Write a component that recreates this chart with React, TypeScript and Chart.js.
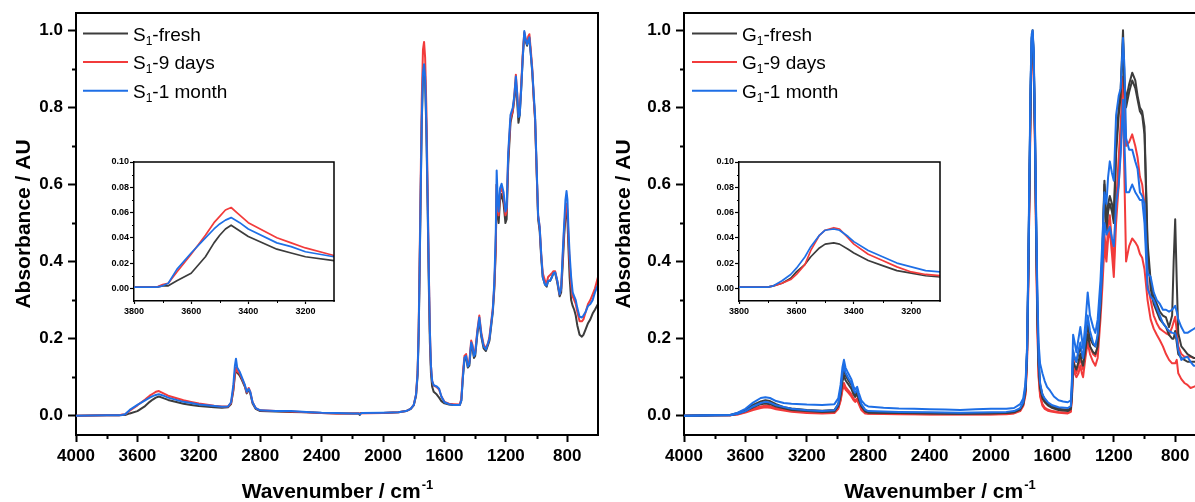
import React, { useEffect, useRef } from 'react';
import { Chart, registerables } from 'chart.js';
Chart.register(...registerables);

type Pt = [number, number];
const FONT = '"Liberation Sans", Arial, Helvetica, sans-serif';
const C_BLACK = '#3c3c3c';
const C_RED = '#f23b3b';
const C_BLUE = '#1e6fe6';

// ---------- tick values ----------
const xMajorTicks = [4000, 3600, 3200, 2800, 2400, 2000, 1600, 1200, 800];
const xMinorTicks = [3800, 3400, 3000, 2600, 2200, 1800, 1400, 1000];
const yMajorTicks = [0, 0.2, 0.4, 0.6, 0.8, 1.0];
const yMinorTicks = [0.1, 0.3, 0.5, 0.7, 0.9];
const insetXMajor = [3800, 3600, 3400, 3200];
const insetXMinor = [3700, 3500, 3300];
const insetYMajor = [0, 0.02, 0.04, 0.06, 0.08, 0.1];
const insetYMinor = [0.01, 0.03, 0.05, 0.07, 0.09];

// ---------- legends (prefix, subscript, suffix) ----------
const sLegend = [['S', '1', '-fresh'], ['S', '1', '-9 days'], ['S', '1', '-1 month']];
const gLegend = [['G', '1', '-fresh'], ['G', '1', '-9 days'], ['G', '1', '-1 month']];
const yTitle = 'Absorbance / AU';
const xTitleMain = 'Wavenumber / cm';
const xTitleSup = '-1';

// ---------- S1 spectra ----------
const sFresh: Pt[] = [[4000,0],[3800,0.001],[3720,0.001],[3700,0.002],[3680,0.002],[3650,0.006],[3600,0.012],[3550,0.025],[3520,0.036],[3500,0.042],[3480,0.047],[3460,0.050],[3440,0.047],[3400,0.041],[3300,0.031],[3250,0.028],[3200,0.025],[3100,0.022],[3050,0.021],[3010,0.022],[2990,0.03],[2975,0.065],[2965,0.105],[2958,0.12],[2950,0.112],[2935,0.105],[2920,0.093],[2900,0.075],[2888,0.058],[2875,0.068],[2865,0.058],[2850,0.032],[2830,0.018],[2800,0.012],[2700,0.011],[2600,0.01],[2500,0.009],[2400,0.007],[2300,0.006],[2200,0.006],[2160,0.006],[2152,0.002],[2145,0.007],[2000,0.007],[1900,0.009],[1850,0.012],[1820,0.018],[1800,0.027],[1785,0.052],[1775,0.105],[1768,0.21],[1762,0.37],[1755,0.57],[1748,0.76],[1740,0.88],[1733,0.91],[1726,0.87],[1718,0.74],[1710,0.55],[1702,0.34],[1695,0.19],[1688,0.11],[1680,0.075],[1670,0.062],[1650,0.055],[1635,0.047],[1620,0.038],[1600,0.032],[1570,0.029],[1540,0.028],[1500,0.028],[1490,0.04],[1480,0.1],[1470,0.145],[1459,0.15],[1448,0.125],[1438,0.13],[1426,0.185],[1418,0.175],[1408,0.15],[1400,0.155],[1385,0.215],[1373,0.245],[1360,0.205],[1345,0.175],[1330,0.168],[1315,0.185],[1307,0.195],[1295,0.235],[1285,0.27],[1275,0.33],[1266,0.43],[1260,0.6],[1253,0.52],[1247,0.5],[1238,0.56],[1228,0.575],[1215,0.55],[1203,0.5],[1195,0.51],[1185,0.65],[1170,0.76],[1155,0.79],[1145,0.82],[1135,0.865],[1127,0.82],[1118,0.76],[1110,0.78],[1100,0.85],[1090,0.93],[1080,0.99],[1070,0.97],[1062,0.96],[1054,0.975],[1047,0.98],[1038,0.94],[1028,0.89],[1018,0.82],[1010,0.77],[1000,0.64],[990,0.51],[980,0.48],[970,0.41],[960,0.36],[945,0.34],[934,0.335],[925,0.35],[912,0.35],[900,0.36],[890,0.37],[879,0.37],[865,0.345],[850,0.31],[840,0.32],[830,0.39],[820,0.47],[812,0.515],[805,0.53],[799,0.51],[792,0.43],[785,0.36],[775,0.3],[765,0.285],[755,0.275],[745,0.26],[735,0.235],[720,0.21],[705,0.205],[695,0.21],[680,0.225],[665,0.24],[650,0.25],[635,0.265],[620,0.275],[600,0.29]];

const s9Days: Pt[] = [[4000,0],[3800,0.001],[3720,0.001],[3700,0.003],[3680,0.004],[3650,0.013],[3600,0.027],[3550,0.042],[3520,0.052],[3500,0.057],[3480,0.062],[3460,0.064],[3440,0.06],[3400,0.052],[3300,0.040],[3250,0.036],[3200,0.032],[3100,0.026],[3050,0.024],[3010,0.024],[2990,0.033],[2975,0.07],[2965,0.11],[2958,0.125],[2950,0.115],[2935,0.11],[2920,0.097],[2900,0.078],[2888,0.06],[2875,0.072],[2865,0.062],[2850,0.035],[2830,0.02],[2800,0.014],[2700,0.012],[2600,0.011],[2500,0.009],[2400,0.007],[2300,0.006],[2200,0.006],[2000,0.007],[1900,0.009],[1850,0.012],[1820,0.018],[1800,0.028],[1785,0.056],[1775,0.115],[1768,0.23],[1762,0.4],[1755,0.61],[1748,0.82],[1740,0.95],[1733,0.97],[1726,0.93],[1718,0.8],[1710,0.6],[1702,0.38],[1695,0.22],[1688,0.13],[1680,0.09],[1670,0.078],[1650,0.074],[1635,0.068],[1620,0.05],[1600,0.036],[1570,0.031],[1540,0.03],[1500,0.029],[1490,0.045],[1480,0.11],[1470,0.155],[1459,0.16],[1448,0.132],[1438,0.14],[1426,0.195],[1418,0.185],[1408,0.16],[1400,0.165],[1385,0.225],[1373,0.26],[1360,0.215],[1345,0.185],[1330,0.175],[1315,0.19],[1307,0.205],[1295,0.245],[1285,0.28],[1275,0.34],[1266,0.44],[1260,0.6],[1253,0.54],[1247,0.52],[1238,0.58],[1228,0.59],[1215,0.57],[1203,0.52],[1195,0.53],[1185,0.67],[1170,0.77],[1155,0.79],[1145,0.83],[1135,0.885],[1127,0.84],[1118,0.78],[1110,0.79],[1100,0.86],[1090,0.94],[1080,0.995],[1070,0.975],[1062,0.965],[1054,0.985],[1047,0.99],[1038,0.95],[1028,0.9],[1018,0.82],[1010,0.77],[1000,0.64],[990,0.52],[980,0.49],[970,0.42],[960,0.37],[945,0.35],[934,0.345],[925,0.36],[912,0.365],[900,0.37],[890,0.375],[879,0.375],[865,0.35],[850,0.315],[840,0.33],[830,0.41],[820,0.49],[812,0.53],[805,0.55],[799,0.53],[792,0.46],[785,0.4],[775,0.34],[765,0.31],[755,0.3],[745,0.29],[735,0.27],[720,0.245],[705,0.245],[695,0.25],[680,0.27],[665,0.29],[650,0.3],[635,0.315],[620,0.33],[600,0.36]];

const s1Month: Pt[] = [[4000,0],[3800,0.001],[3720,0.001],[3700,0.002],[3680,0.004],[3650,0.015],[3600,0.028],[3550,0.040],[3520,0.047],[3500,0.051],[3480,0.054],[3460,0.056],[3430,0.052],[3400,0.047],[3300,0.036],[3250,0.033],[3200,0.029],[3100,0.025],[3050,0.023],[3010,0.024],[2990,0.035],[2975,0.08],[2965,0.13],[2958,0.148],[2950,0.125],[2935,0.115],[2920,0.1],[2900,0.08],[2888,0.062],[2875,0.07],[2865,0.062],[2850,0.035],[2830,0.02],[2800,0.014],[2700,0.012],[2600,0.012],[2500,0.01],[2400,0.008],[2300,0.007],[2200,0.006],[2160,0.006],[2150,0.004],[2140,0.007],[2000,0.008],[1900,0.009],[1850,0.012],[1820,0.018],[1800,0.028],[1785,0.055],[1775,0.11],[1768,0.22],[1762,0.38],[1755,0.58],[1748,0.77],[1740,0.89],[1733,0.912],[1726,0.88],[1718,0.76],[1710,0.57],[1702,0.37],[1695,0.22],[1688,0.13],[1680,0.09],[1670,0.079],[1650,0.076],[1635,0.07],[1620,0.05],[1600,0.035],[1570,0.03],[1540,0.028],[1500,0.028],[1490,0.04],[1480,0.1],[1470,0.15],[1459,0.155],[1448,0.128],[1438,0.135],[1426,0.19],[1418,0.18],[1408,0.155],[1400,0.16],[1385,0.22],[1373,0.255],[1360,0.21],[1345,0.18],[1330,0.172],[1315,0.19],[1307,0.2],[1295,0.24],[1285,0.274],[1275,0.35],[1266,0.47],[1260,0.636],[1253,0.56],[1247,0.53],[1238,0.59],[1228,0.602],[1215,0.58],[1203,0.53],[1195,0.54],[1185,0.68],[1170,0.78],[1155,0.8],[1145,0.83],[1135,0.88],[1127,0.84],[1118,0.775],[1110,0.78],[1100,0.85],[1090,0.93],[1080,0.998],[1070,0.975],[1062,0.963],[1054,0.975],[1047,0.982],[1038,0.94],[1028,0.895],[1018,0.83],[1010,0.78],[1000,0.65],[990,0.52],[980,0.49],[970,0.42],[960,0.36],[945,0.34],[934,0.338],[925,0.35],[912,0.35],[900,0.36],[890,0.37],[879,0.372],[865,0.35],[850,0.315],[840,0.33],[830,0.42],[820,0.5],[812,0.56],[805,0.583],[799,0.56],[792,0.48],[785,0.42],[775,0.36],[765,0.32],[755,0.31],[745,0.3],[735,0.28],[720,0.257],[705,0.255],[695,0.26],[680,0.27],[665,0.285],[650,0.29],[635,0.3],[620,0.32],[600,0.34]];

// ---------- G1 spectra (two traces per sample) ----------
const gFreshA: Pt[] = [[4000,0],[3800,0.001],[3700,0.002],[3650,0.007],[3600,0.015],[3550,0.028],[3500,0.037],[3470,0.04],[3440,0.038],[3400,0.03],[3350,0.022],[3300,0.019],[3200,0.015],[3100,0.013],[3020,0.015],[2995,0.03],[2980,0.06],[2968,0.1],[2958,0.12],[2948,0.105],[2930,0.092],[2910,0.08],[2895,0.062],[2885,0.055],[2872,0.062],[2862,0.048],[2845,0.028],[2820,0.014],[2800,0.01],[2600,0.008],[2400,0.007],[2200,0.006],[2000,0.007],[1900,0.008],[1850,0.01],[1810,0.018],[1790,0.032],[1775,0.07],[1765,0.17],[1758,0.35],[1750,0.6],[1742,0.85],[1735,0.98],[1729,1.0],[1722,0.94],[1714,0.75],[1706,0.5],[1698,0.28],[1690,0.14],[1680,0.08],[1665,0.055],[1650,0.042],[1630,0.032],[1600,0.024],[1560,0.018],[1500,0.015],[1480,0.02],[1472,0.07],[1465,0.165],[1455,0.15],[1444,0.14],[1430,0.16],[1418,0.18],[1408,0.16],[1400,0.15],[1385,0.19],[1370,0.235],[1355,0.2],[1335,0.185],[1320,0.18],[1305,0.205],[1287,0.3],[1275,0.42],[1261,0.61],[1248,0.5],[1237,0.55],[1226,0.57],[1212,0.55],[1200,0.52],[1185,0.7],[1168,0.8],[1155,0.85],[1140,1.0],[1130,0.86],[1120,0.82],[1100,0.86],[1080,0.89],[1060,0.87],[1045,0.83],[1030,0.8],[1015,0.79],[1000,0.75],[980,0.45],[960,0.35],[940,0.31],[920,0.29],[900,0.27],[880,0.26],[860,0.255],[840,0.23],[820,0.26],[810,0.4],[800,0.51],[790,0.35],[780,0.214],[760,0.18],[740,0.17],[720,0.16],[700,0.155],[680,0.15],[660,0.15]];

const gFreshB: Pt[] = [[4000,0],[3800,0.001],[3700,0.001],[3650,0.005],[3600,0.012],[3550,0.022],[3500,0.03],[3470,0.032],[3440,0.03],[3400,0.024],[3300,0.015],[3200,0.012],[3100,0.01],[3020,0.011],[2995,0.025],[2980,0.052],[2968,0.088],[2958,0.105],[2948,0.092],[2930,0.082],[2910,0.07],[2895,0.055],[2885,0.049],[2872,0.056],[2862,0.043],[2845,0.024],[2820,0.011],[2800,0.008],[2600,0.007],[2400,0.006],[2200,0.005],[2000,0.006],[1900,0.007],[1850,0.009],[1810,0.016],[1790,0.03],[1775,0.065],[1765,0.16],[1758,0.34],[1750,0.58],[1742,0.83],[1735,0.97],[1729,0.99],[1722,0.93],[1714,0.74],[1706,0.49],[1698,0.27],[1690,0.13],[1680,0.07],[1665,0.045],[1650,0.035],[1630,0.027],[1600,0.02],[1560,0.015],[1500,0.012],[1480,0.017],[1472,0.06],[1465,0.14],[1455,0.13],[1444,0.12],[1430,0.14],[1418,0.16],[1408,0.14],[1400,0.13],[1385,0.17],[1370,0.21],[1355,0.18],[1335,0.165],[1320,0.16],[1305,0.18],[1287,0.28],[1275,0.4],[1261,0.6],[1248,0.48],[1237,0.53],[1226,0.55],[1212,0.53],[1200,0.5],[1185,0.68],[1168,0.78],[1155,0.83],[1140,0.97],[1130,0.84],[1120,0.8],[1100,0.84],[1080,0.87],[1060,0.85],[1045,0.82],[1030,0.79],[1015,0.78],[1000,0.73],[980,0.43],[960,0.33],[940,0.29],[920,0.27],[900,0.25],[880,0.24],[860,0.23],[840,0.21],[820,0.2],[810,0.2],[800,0.22],[790,0.19],[780,0.16],[760,0.15],[740,0.145],[720,0.14],[700,0.14],[680,0.14],[660,0.14]];

const g9DaysA: Pt[] = [[4000,0],[3800,0.001],[3700,0.001],[3650,0.004],[3600,0.01],[3550,0.018],[3500,0.024],[3470,0.026],[3440,0.025],[3400,0.02],[3300,0.012],[3200,0.009],[3100,0.008],[3020,0.009],[2995,0.02],[2980,0.042],[2968,0.072],[2958,0.085],[2948,0.075],[2930,0.066],[2910,0.056],[2895,0.044],[2885,0.04],[2872,0.045],[2862,0.035],[2845,0.018],[2820,0.008],[2800,0.006],[2600,0.005],[2400,0.004],[2200,0.004],[2000,0.004],[1900,0.005],[1850,0.007],[1810,0.014],[1790,0.027],[1775,0.06],[1765,0.15],[1758,0.32],[1750,0.56],[1742,0.81],[1735,0.95],[1729,0.98],[1722,0.92],[1714,0.72],[1706,0.46],[1698,0.24],[1690,0.11],[1680,0.055],[1665,0.03],[1650,0.021],[1630,0.016],[1600,0.012],[1560,0.01],[1500,0.008],[1480,0.012],[1472,0.06],[1465,0.15],[1455,0.13],[1444,0.11],[1430,0.13],[1418,0.15],[1408,0.13],[1400,0.12],[1385,0.17],[1370,0.214],[1355,0.18],[1335,0.16],[1320,0.154],[1305,0.18],[1287,0.29],[1275,0.37],[1261,0.47],[1248,0.42],[1237,0.49],[1226,0.52],[1212,0.45],[1200,0.39],[1185,0.55],[1168,0.67],[1155,0.76],[1140,0.88],[1130,0.8],[1120,0.7],[1100,0.71],[1080,0.73],[1060,0.7],[1045,0.67],[1030,0.62],[1015,0.6],[1000,0.55],[980,0.34],[960,0.3],[940,0.26],[920,0.24],[900,0.226],[880,0.22],[860,0.214],[840,0.21],[820,0.23],[800,0.257],[790,0.22],[780,0.18],[760,0.16],[740,0.153],[720,0.153],[700,0.153],[680,0.15],[660,0.15]];

const g9DaysB: Pt[] = [[4000,0],[3800,0.001],[3700,0.001],[3650,0.003],[3600,0.008],[3550,0.015],[3500,0.02],[3470,0.022],[3440,0.021],[3400,0.017],[3300,0.01],[3200,0.007],[3100,0.006],[3020,0.007],[2995,0.018],[2980,0.038],[2968,0.066],[2958,0.078],[2948,0.068],[2930,0.06],[2910,0.05],[2895,0.04],[2885,0.036],[2872,0.04],[2862,0.031],[2845,0.015],[2820,0.006],[2800,0.005],[2600,0.004],[2400,0.003],[2200,0.003],[2000,0.003],[1900,0.004],[1850,0.006],[1810,0.012],[1790,0.025],[1775,0.055],[1765,0.14],[1758,0.31],[1750,0.55],[1742,0.8],[1735,0.94],[1729,0.97],[1722,0.91],[1714,0.71],[1706,0.45],[1698,0.23],[1690,0.1],[1680,0.05],[1665,0.026],[1650,0.018],[1630,0.013],[1600,0.01],[1560,0.008],[1500,0.006],[1480,0.01],[1472,0.05],[1465,0.13],[1455,0.11],[1444,0.1],[1430,0.11],[1418,0.13],[1408,0.11],[1400,0.1],[1385,0.15],[1370,0.19],[1355,0.16],[1335,0.14],[1320,0.13],[1305,0.15],[1287,0.25],[1275,0.33],[1261,0.44],[1248,0.4],[1237,0.46],[1226,0.48],[1212,0.42],[1200,0.36],[1185,0.5],[1168,0.6],[1155,0.7],[1140,0.82],[1130,0.6],[1120,0.4],[1100,0.44],[1080,0.46],[1060,0.45],[1045,0.44],[1030,0.42],[1015,0.41],[1000,0.38],[980,0.3],[960,0.25],[940,0.226],[920,0.21],[900,0.196],[880,0.18],[860,0.16],[840,0.145],[820,0.136],[800,0.136],[790,0.145],[780,0.11],[760,0.095],[740,0.085],[720,0.08],[700,0.072],[680,0.075],[660,0.078]];

const g1MonthA: Pt[] = [[4000,0],[3800,0.001],[3700,0.002],[3650,0.008],[3600,0.018],[3550,0.034],[3500,0.046],[3470,0.048],[3440,0.046],[3400,0.038],[3350,0.033],[3300,0.031],[3200,0.029],[3100,0.028],[3020,0.03],[2995,0.045],[2980,0.08],[2968,0.125],[2958,0.145],[2948,0.125],[2930,0.11],[2910,0.095],[2895,0.075],[2885,0.068],[2872,0.075],[2862,0.06],[2845,0.04],[2820,0.028],[2800,0.024],[2700,0.021],[2600,0.019],[2500,0.018],[2400,0.017],[2300,0.016],[2200,0.015],[2100,0.017],[2000,0.018],[1900,0.018],[1850,0.02],[1810,0.03],[1790,0.045],[1775,0.085],[1765,0.18],[1758,0.37],[1750,0.62],[1742,0.87],[1735,0.99],[1729,1.0],[1722,0.95],[1714,0.77],[1706,0.53],[1698,0.32],[1690,0.19],[1680,0.135],[1665,0.11],[1650,0.09],[1635,0.075],[1615,0.065],[1590,0.05],[1560,0.04],[1530,0.037],[1500,0.035],[1480,0.04],[1472,0.1],[1465,0.21],[1455,0.19],[1444,0.165],[1430,0.2],[1418,0.23],[1408,0.2],[1400,0.175],[1385,0.24],[1370,0.32],[1355,0.26],[1335,0.23],[1320,0.215],[1305,0.25],[1287,0.35],[1275,0.45],[1261,0.58],[1248,0.55],[1237,0.62],[1226,0.66],[1212,0.63],[1200,0.61],[1185,0.78],[1168,0.83],[1155,0.85],[1140,0.98],[1130,0.9],[1120,0.72],[1100,0.69],[1080,0.69],[1060,0.66],[1045,0.64],[1030,0.58],[1015,0.57],[1000,0.55],[980,0.37],[960,0.36],[940,0.32],[920,0.3],[900,0.29],[880,0.275],[860,0.275],[840,0.27],[820,0.275],[800,0.285],[790,0.27],[780,0.25],[760,0.23],[740,0.215],[720,0.215],[700,0.22],[680,0.225],[660,0.23]];

const g1MonthB: Pt[] = [[4000,0],[3800,0.001],[3700,0.001],[3650,0.005],[3600,0.012],[3550,0.024],[3500,0.033],[3470,0.036],[3440,0.034],[3400,0.027],[3300,0.018],[3200,0.014],[3100,0.012],[3020,0.014],[2995,0.03],[2980,0.065],[2968,0.11],[2958,0.13],[2948,0.112],[2930,0.098],[2910,0.085],[2895,0.066],[2885,0.06],[2872,0.067],[2862,0.052],[2845,0.03],[2820,0.016],[2800,0.012],[2600,0.01],[2400,0.009],[2200,0.008],[2000,0.009],[1900,0.01],[1850,0.012],[1810,0.02],[1790,0.035],[1775,0.075],[1765,0.17],[1758,0.35],[1750,0.6],[1742,0.85],[1735,0.98],[1729,0.995],[1722,0.94],[1714,0.76],[1706,0.51],[1698,0.3],[1690,0.15],[1680,0.085],[1665,0.055],[1650,0.045],[1630,0.035],[1600,0.027],[1560,0.022],[1500,0.02],[1480,0.025],[1472,0.08],[1465,0.17],[1455,0.15],[1444,0.14],[1430,0.17],[1418,0.19],[1408,0.165],[1400,0.15],[1385,0.2],[1370,0.26],[1355,0.22],[1335,0.19],[1320,0.18],[1305,0.21],[1287,0.3],[1275,0.38],[1261,0.5],[1248,0.47],[1237,0.48],[1226,0.49],[1212,0.46],[1200,0.44],[1185,0.55],[1168,0.6],[1155,0.68],[1140,0.82],[1130,0.7],[1120,0.58],[1100,0.58],[1080,0.6],[1060,0.58],[1045,0.57],[1030,0.56],[1015,0.56],[1000,0.5],[980,0.33],[960,0.31],[940,0.3],[920,0.28],[900,0.26],[880,0.24],[860,0.23],[840,0.22],[820,0.215],[800,0.214],[790,0.2],[780,0.17],[760,0.145],[740,0.15],[720,0.153],[700,0.14],[680,0.13],[660,0.13]];

// ---------- G1 inset traces ----------
const gInsetFresh: Pt[] = [[3800,0.001],[3750,0.001],[3700,0.001],[3680,0.002],[3650,0.004],[3620,0.008],[3600,0.013],[3570,0.019],[3550,0.025],[3520,0.032],[3500,0.035],[3470,0.036],[3450,0.035],[3420,0.031],[3400,0.028],[3350,0.022],[3300,0.018],[3250,0.014],[3200,0.012],[3150,0.01],[3100,0.009]];
const gInset9Days: Pt[] = [[3800,0.001],[3750,0.001],[3700,0.001],[3680,0.002],[3650,0.004],[3620,0.007],[3600,0.011],[3570,0.019],[3550,0.03],[3520,0.042],[3500,0.046],[3470,0.048],[3450,0.047],[3420,0.04],[3400,0.035],[3350,0.027],[3300,0.022],[3250,0.017],[3200,0.013],[3150,0.011],[3100,0.01]];
const gInset1Month: Pt[] = [[3800,0.001],[3750,0.001],[3700,0.001],[3680,0.002],[3650,0.006],[3620,0.011],[3600,0.016],[3570,0.025],[3550,0.033],[3520,0.042],[3500,0.046],[3470,0.047],[3450,0.046],[3420,0.041],[3400,0.037],[3350,0.03],[3300,0.025],[3250,0.02],[3200,0.017],[3150,0.014],[3100,0.013]];

// ---------- helpers ----------
function decor(o: any) {
  return {
    id: 'decor',
    afterDraw(chart: any) {
      const { ctx, chartArea: a, scales } = chart;
      ctx.save();
      ctx.strokeStyle = '#000';
      ctx.lineCap = 'square';
      ctx.lineWidth = o.frameW;
      ctx.beginPath();
      ctx.moveTo(a.left, a.top);
      ctx.lineTo(a.right, a.top);
      if (o.rightBorder) {
        ctx.moveTo(a.right, a.top);
        ctx.lineTo(a.right, a.bottom);
      }
      ctx.stroke();
      ctx.lineCap = 'butt';
      ctx.lineWidth = o.minorW;
      ctx.beginPath();
      o.xMinor.forEach((v: number) => {
        const px = Math.round(scales.x.getPixelForValue(v)) + 0.5;
        ctx.moveTo(px, a.bottom);
        ctx.lineTo(px, a.bottom + o.minorLen);
      });
      o.yMinor.forEach((v: number) => {
        const py = Math.round(scales.y.getPixelForValue(v)) + 0.5;
        ctx.moveTo(a.left - o.minorLen, py);
        ctx.lineTo(a.left, py);
      });
      ctx.stroke();

      if (o.legend) {
        const L = o.legend;
        L.items.forEach((parts: string[], i: number) => {
          const y = L.y0 + i * L.dy;
          ctx.strokeStyle = L.colors[i];
          ctx.lineWidth = 2;
          ctx.beginPath();
          ctx.moveTo(L.x0, y);
          ctx.lineTo(L.x1, y);
          ctx.stroke();
          ctx.fillStyle = '#000';
          ctx.textAlign = 'left';
          ctx.textBaseline = 'alphabetic';
          const base = y + 7;
          let x = L.tx;
          ctx.font = `19px ${FONT}`;
          ctx.fillText(parts[0], x, base);
          x += ctx.measureText(parts[0]).width;
          ctx.font = `12px ${FONT}`;
          ctx.fillText(parts[1], x, base + 4);
          x += ctx.measureText(parts[1]).width;
          ctx.font = `19px ${FONT}`;
          ctx.fillText(parts[2], x, base);
        });
      }

      if (o.xTitle) {
        ctx.fillStyle = '#000';
        ctx.textAlign = 'left';
        ctx.textBaseline = 'alphabetic';
        ctx.font = `bold 21px ${FONT}`;
        const w1 = ctx.measureText(xTitleMain).width;
        ctx.font = `bold 13px ${FONT}`;
        const w2 = ctx.measureText(xTitleSup).width;
        const cx = (a.left + a.right) / 2 + (o.xTitle.dx || 0);
        const x = cx - (w1 + w2) / 2;
        ctx.font = `bold 21px ${FONT}`;
        ctx.fillText(xTitleMain, x, o.xTitle.base);
        ctx.font = `bold 13px ${FONT}`;
        ctx.fillText(xTitleSup, x + w1 + 1, o.xTitle.base - 9);
      }
      ctx.restore();
    },
  };
}

function datasets(series: { data: Pt[]; color: string }[], width: number) {
  const n = series.length;
  return series.map((s, i) => ({
    data: s.data.map(([x, y]) => ({ x, y })),
    borderColor: s.color,
    backgroundColor: s.color,
    borderWidth: width,
    pointRadius: 0,
    tension: 0,
    fill: false,
    borderJoinStyle: 'round',
    order: n - i,
  }));
}

function MainPanel(p: any) {
  const ref = useRef<HTMLCanvasElement>(null);
  useEffect(() => {
    const chart = new Chart(ref.current as HTMLCanvasElement, {
      type: 'line',
      data: { datasets: datasets(p.series, 2) as any },
      options: {
        animation: false,
        responsive: false,
        events: [],
        layout: { padding: { left: 0, right: p.padRight, top: 13, bottom: 0 } },
        plugins: { legend: { display: false }, tooltip: { enabled: false } },
        scales: {
          x: {
            type: 'linear',
            reverse: true,
            min: p.xMin,
            max: 4000,
            afterBuildTicks: (s: any) => { s.ticks = xMajorTicks.map((value) => ({ value })); },
            afterFit: (s: any) => { s.height = 67; s.paddingLeft = 0; s.paddingRight = 0; },
            grid: { drawOnChartArea: false, drawTicks: true, tickLength: 7, tickWidth: 2, tickColor: '#000' },
            border: { display: true, color: '#000', width: 2 },
            ticks: {
              autoSkip: false, maxRotation: 0, minRotation: 0, padding: 4, color: '#000',
              font: { family: FONT, size: 17, weight: 'bold' },
              callback: (v: any) => String(v),
            },
          },
          y: {
            type: 'linear',
            min: -0.05,
            max: 1.045,
            afterBuildTicks: (s: any) => { s.ticks = yMajorTicks.map((value) => ({ value })); },
            afterFit: (s: any) => { s.width = p.yWidth; s.paddingTop = 0; s.paddingBottom = 0; },
            grid: { drawOnChartArea: false, drawTicks: true, tickLength: 8, tickWidth: 2, tickColor: '#000' },
            border: { display: true, color: '#000', width: 2 },
            ticks: {
              autoSkip: false, padding: 5, color: '#000',
              font: { family: FONT, size: 17, weight: 'bold' },
              callback: (v: any) => Number(v).toFixed(1),
            },
            title: {
              display: true, text: yTitle, color: '#000',
              font: { family: FONT, size: 21, weight: 'bold' },
              padding: { top: 12, bottom: 0 },
            },
          },
        },
      } as any,
      plugins: [decor({
        frameW: 2, rightBorder: p.rightBorder, xMinor: xMinorTicks, yMinor: yMinorTicks, minorLen: 4, minorW: 2,
        legend: { items: p.legend, colors: [C_BLACK, C_RED, C_BLUE], x0: p.legendX0, x1: p.legendX0 + 45, tx: p.legendX0 + 50, y0: 33.5, dy: 28.6 },
        xTitle: { base: 498 },
      })],
    });
    return () => chart.destroy();
  }, []);
  return (
    <canvas ref={ref} width={p.width} height={502}
      style={{ position: 'absolute', left: p.left, top: 0, width: p.width, height: 502 }} />
  );
}

function InsetPanel(p: any) {
  const ref = useRef<HTMLCanvasElement>(null);
  useEffect(() => {
    const chart = new Chart(ref.current as HTMLCanvasElement, {
      type: 'line',
      data: { datasets: datasets(p.series, 1.7) as any },
      options: {
        animation: false,
        responsive: false,
        events: [],
        layout: { padding: { left: 0, right: p.padRight, top: 12, bottom: 0 } },
        plugins: { legend: { display: false }, tooltip: { enabled: false } },
        scales: {
          x: {
            type: 'linear', reverse: true, min: 3100, max: 3800,
            afterBuildTicks: (s: any) => { s.ticks = insetXMajor.map((value) => ({ value })); },
            afterFit: (s: any) => { s.height = 29; s.paddingLeft = 0; s.paddingRight = 0; },
            grid: { drawOnChartArea: false, drawTicks: true, tickLength: 3, tickWidth: 1.2, tickColor: '#000' },
            border: { display: true, color: '#000', width: 1.5 },
            ticks: {
              autoSkip: false, maxRotation: 0, minRotation: 0, padding: 2, color: '#000',
              font: { family: FONT, size: 9, weight: 'bold' },
              callback: (v: any) => String(v),
            },
          },
          y: {
            type: 'linear', min: -0.01, max: 0.1,
            afterBuildTicks: (s: any) => { s.ticks = insetYMajor.map((value) => ({ value })); },
            afterFit: (s: any) => { s.width = p.yWidth; s.paddingTop = 0; s.paddingBottom = 0; },
            grid: { drawOnChartArea: false, drawTicks: true, tickLength: 4, tickWidth: 1.2, tickColor: '#000' },
            border: { display: true, color: '#000', width: 1.5 },
            ticks: {
              autoSkip: false, padding: 1, color: '#000',
              font: { family: FONT, size: 9, weight: 'bold' },
              callback: (v: any) => Number(v).toFixed(2),
            },
          },
        },
      } as any,
      plugins: [decor({ frameW: 1.5, rightBorder: true, xMinor: insetXMinor, yMinor: insetYMinor, minorLen: 2, minorW: 1 })],
    });
    return () => chart.destroy();
  }, []);
  return (
    <canvas ref={ref} width={250} height={180}
      style={{ position: 'absolute', left: p.left, top: p.top, width: 250, height: 180 }} />
  );
}

export default function App() {
  const sSeries = [
    { data: sFresh, color: C_BLACK },
    { data: s9Days, color: C_RED },
    { data: s1Month, color: C_BLUE },
  ];
  const gSeries = [
    { data: g9DaysB, color: C_RED },
    { data: g9DaysA, color: C_RED },
    { data: gFreshB, color: C_BLACK },
    { data: gFreshA, color: C_BLACK },
    { data: g1MonthB, color: C_BLUE },
    { data: g1MonthA, color: C_BLUE },
  ];
  const gInsetSeries = [
    { data: gInsetFresh, color: C_BLACK },
    { data: gInset9Days, color: C_RED },
    { data: gInset1Month, color: C_BLUE },
  ];
  return (
    <div style={{ position: 'absolute', left: 0, top: 0, width: 1195, height: 502, background: '#fff', overflow: 'hidden' }}>
      <MainPanel left={0} width={600} yWidth={76} padRight={2} xMin={600} rightBorder={true}
        series={sSeries} legend={sLegend} legendX0={83} />
      <MainPanel left={600} width={595} yWidth={84} padRight={0} xMin={671} rightBorder={false}
        series={gSeries} legend={gLegend} legendX0={92} />
      <InsetPanel left={95} top={150} padRight={11} yWidth={39} series={sSeries} />
      <InsetPanel left={700} top={150} padRight={10} yWidth={39} series={gInsetSeries} />
    </div>
  );
}
